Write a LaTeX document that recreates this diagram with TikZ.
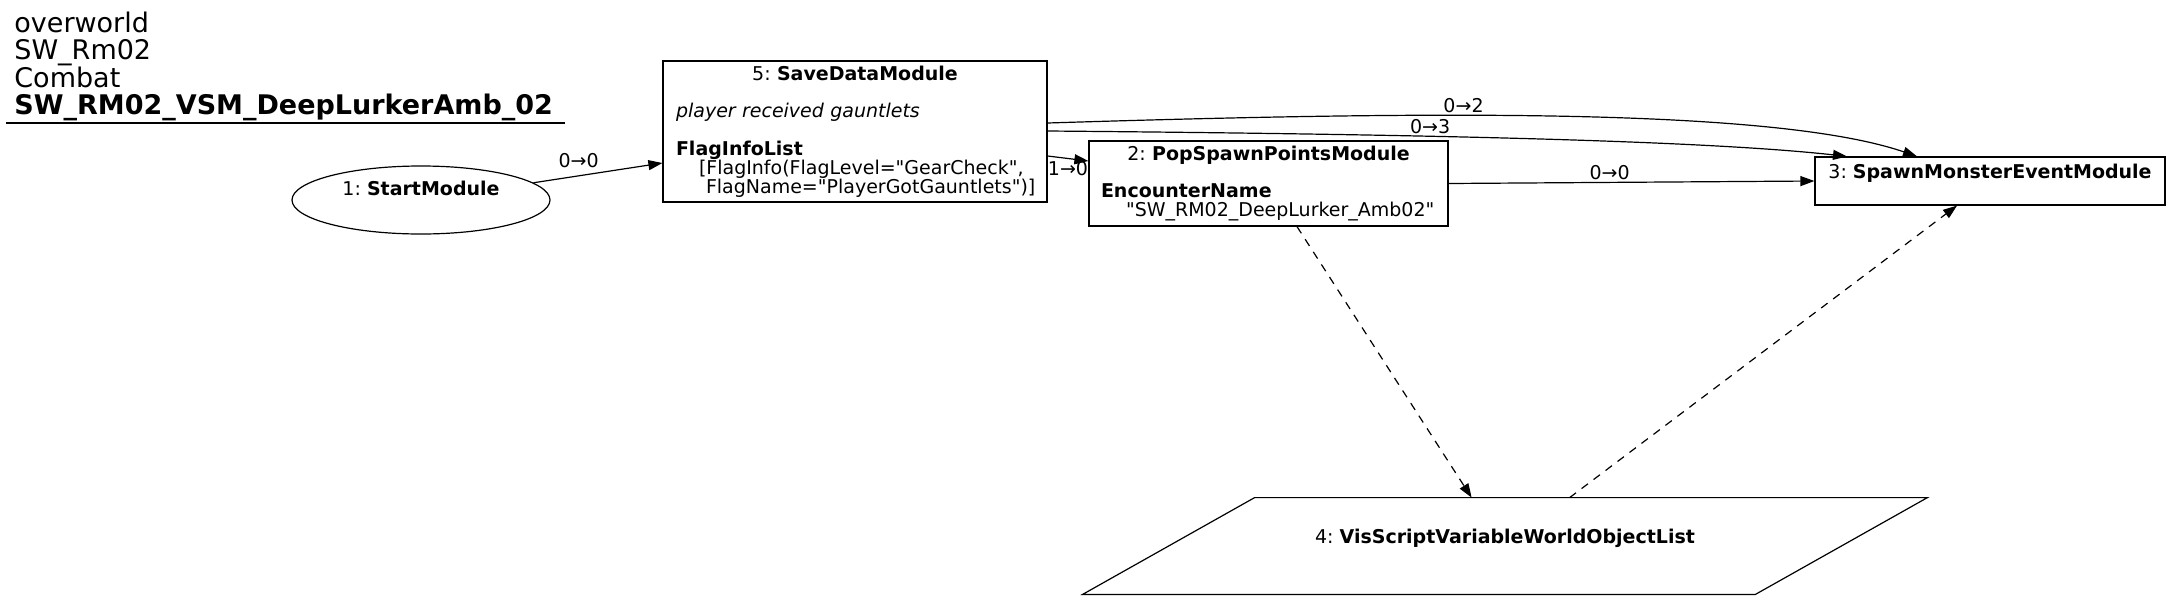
\documentclass[tikz,border=0pt]{standalone}
\usepackage{fontspec}
\setmainfont{DejaVu Sans}
\usetikzlibrary{arrows.meta,calc,shapes.geometric}
\frenchspacing
\newcommand{\modfont}{\fontsize{9.5pt}{9.4pt}\selectfont}
\newcommand{\headfont}{\fontsize{13.5pt}{13.35pt}\selectfont}
\newcommand{\dq}{\textquotedbl}
\tikzset{
    module/.style={draw, rectangle, line width=0.6pt, font=\modfont, align=left, inner ysep=2pt},
    startmod/.style={draw, ellipse, line width=0.6pt, font=\modfont, align=center, inner sep=0pt, minimum width=129pt, minimum height=34pt},
    varlist/.style={rectangle, font=\modfont, align=center, inner sep=0pt, minimum width=422pt, minimum height=48pt},
    flow/.style={line width=0.6pt, -{Triangle[length=7pt,width=5pt]}},
    dep/.style={flow, dash pattern=on 4pt off 3.5pt},
    elabel/.style={font=\modfont, inner sep=1pt},
  }
\begin{document}
\begin{tikzpicture}[x=0.5pt,y=-0.5pt]
  \useasboundingbox (0,0) rectangle (2171,600);
  %HEADER
  \node[font=\headfont, align=left, anchor=north west, inner sep=0pt] (header) at (14,11.5) {overworld\\SW\_Rm02\\Combat\\\textbf{SW\_RM02\_VSM\_DeepLurkerAmb\_02}};
  \draw[line width=0.6pt] (6,123) -- (565,123);
  %MODULES
  \node[startmod] (start) at (421,200) {1: \textbf{StartModule}\\[2pt]\mbox{}};
  \node[module, text width=179pt, inner xsep=6.5pt, minimum height=70.5pt] (save) at (855,131.5) {\hfill 5: \textbf{SaveDataModule}\hfill\mbox{}\\[9.4pt]
    \textit{player received gauntlets}\\[9.4pt]
    \textbf{FlagInfoList}\\
    \hspace*{11.5pt}[FlagInfo(FlagLevel=\dq GearCheck\dq,\\
    \hspace*{15pt}FlagName=\dq PlayerGotGauntlets\dq)]};
  \node[module, text width=167.5pt, inner xsep=6pt, minimum height=42.5pt] (pop) at (1268.5,183.5) {\hfill 2: \textbf{PopSpawnPointsModule}\hfill\mbox{}\\[9.4pt]
    \textbf{EncounterName}\\
    \hspace*{12.5pt}\dq SW\_RM02\_DeepLurker\_Amb02\dq};
  \node[module, align=center, minimum width=175pt, minimum height=24pt] (spawn) at (1990,181) {3: \textbf{SpawnMonsterEventModule}\\[0pt]\mbox{}};
  %parallelogram VIS
  \node[varlist] (vis) at (1505,546) {4: \textbf{VisScriptVariableWorldObjectList}\\[0pt]\mbox{}};
  \draw[line width=0.6pt] ([xshift=86pt]vis.north west) -- (vis.north east) -- ([xshift=-86pt]vis.south east) -- (vis.south west) -- cycle;
  %EDGES
  \draw[flow] (start) -- ([yshift=-15.75pt]save.west) node[elabel, above, pos=0.35, yshift=2.5pt] {0→0};
  \draw[flow] ([yshift=-12.25pt]save.east) -- ([yshift=11.25pt]pop.west) node[elabel, below, pos=0.5] {1→0};
  \draw[flow] ([yshift=4.25pt]save.east) .. controls (1400,112) and (1770,106) .. ([xshift=-36.5pt]spawn.north) node[elabel, above, pos=0.4] {0→2};
  \draw[flow] ([yshift=0.25pt]save.east) .. controls (1400,134) and (1700,140) .. ([xshift=-71.5pt]spawn.north) node[elabel, above, pos=0.39] {0→3};
  \draw[flow] (pop.east) -- (spawn.west) node[elabel, above, pos=0.44] {0→0};
  %DEPENDENCIES
  \draw[dep] ([xshift=14.25pt]pop.south) -- ([xshift=194.5pt]vis.north west);
  \draw[dep] ([xshift=243.5pt]vis.north west) -- ([xshift=-16.5pt]spawn.south);
\end{tikzpicture}
\end{document}
